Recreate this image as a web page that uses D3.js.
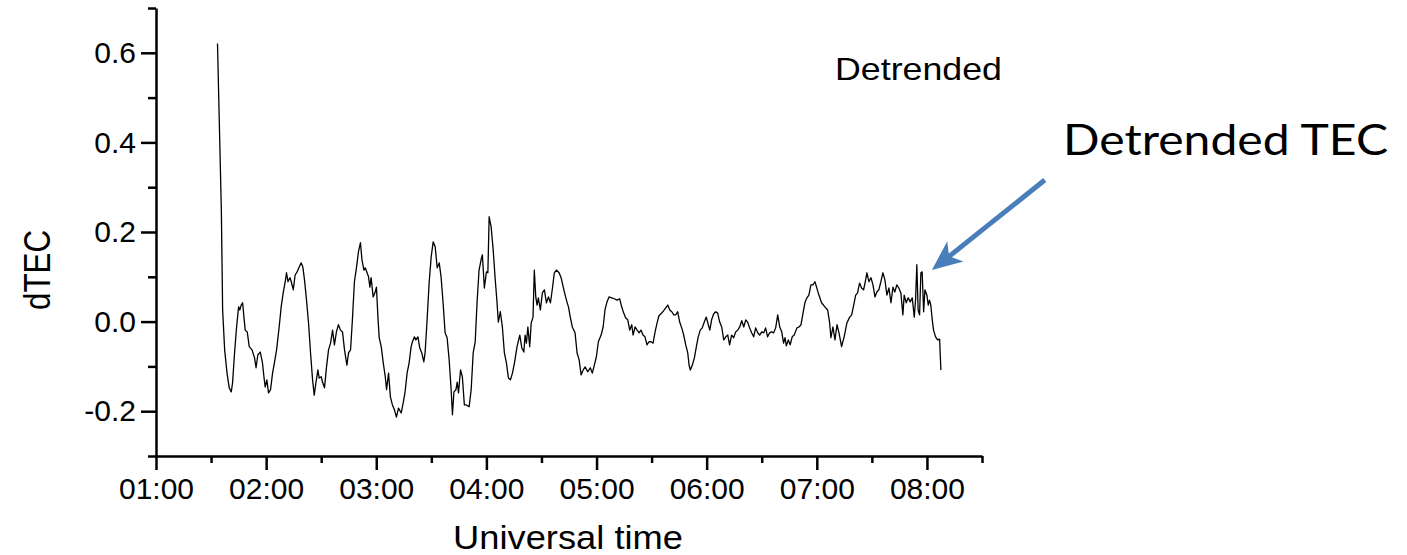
<!DOCTYPE html>
<html>
<head>
<meta charset="utf-8">
<script src="https://cdn.jsdelivr.net/npm/d3@7"></script>
<style>
  body { margin: 0; background: #fff; }
  svg text { font-family: "Liberation Sans", Arial, sans-serif; fill: #000; }
</style>
</head>
<body>
<svg id="chart" width="1407" height="555"></svg>
<script>
// time of each sample, minutes after 00:00 UT
var timeMin = [
  93.5, 95.6, 96.3, 97.4, 98.7, 99.9, 101.0, 101.7, 102.8, 103.9,
  105.0, 105.7, 106.4, 107.2, 107.9, 108.6, 109.7, 110.8, 112.3, 113.7,
  114.5, 115.5, 116.8, 118.0, 118.8, 119.5, 120.4, 121.3, 122.4, 123.5,
  124.6, 125.7, 127.1, 128.2, 129.3, 130.4, 131.1, 131.9, 133.0, 133.7,
  134.8, 135.8, 136.9, 138.0, 139.1, 140.0, 140.9, 142.0, 143.1, 144.2,
  145.3, 146.2, 147.1, 148.2, 148.9, 150.0, 150.7, 151.8, 152.9, 154.0,
  155.1, 156.2, 157.2, 158.3, 159.4, 160.5, 161.6, 162.7, 164.0, 164.9,
  166.0, 167.0, 168.1, 169.2, 170.3, 171.4, 172.2, 173.3, 174.0, 175.8,
  176.5, 177.2, 178.3, 179.4, 180.1, 180.9, 181.6, 182.7, 183.8, 184.9,
  185.6, 186.7, 187.7, 188.8, 189.9, 191.0, 192.1, 193.6, 194.7, 195.7,
  196.8, 197.9, 199.0, 199.7, 200.8, 201.6, 202.7, 203.7, 204.8, 205.9,
  206.6, 207.7, 208.8, 209.9, 211.0, 212.1, 213.2, 214.3, 215.3, 216.4,
  217.5, 218.6, 219.7, 220.8, 221.5, 222.3, 223.4, 224.1, 224.8, 225.9,
  226.9, 228.0, 229.1, 230.6, 231.7, 232.8, 233.9, 234.9, 236.0, 237.1,
  237.8, 238.9, 240.0, 240.8, 241.5, 242.6, 243.7, 244.7, 245.8, 246.5,
  247.6, 248.7, 249.8, 250.9, 252.0, 253.1, 254.2, 255.3, 256.7, 258.2,
  259.3, 260.4, 261.1, 261.8, 262.6, 263.6, 264.4, 265.4, 266.1, 266.9,
  267.6, 268.3, 269.4, 270.5, 271.6, 272.7, 273.8, 274.9, 276.0, 277.0,
  278.1, 279.6, 280.7, 282.2, 283.6, 284.7, 285.7, 286.8, 288.3, 289.4,
  290.5, 291.6, 292.7, 293.8, 295.2, 296.6, 297.7, 298.8, 299.9, 301.0,
  302.5, 303.6, 304.6, 305.7, 306.8, 308.3, 309.7, 311.2, 312.6, 313.7,
  314.8, 315.9, 317.0, 318.1, 319.2, 319.9, 321.0, 322.1, 323.2, 324.2,
  325.3, 326.4, 327.5, 328.6, 329.7, 330.8, 331.9, 333.0, 334.0, 335.5,
  336.9,
  338.8, 339.9, 341.0, 342.1, 343.1, 344.2, 345.3, 346.4, 347.5, 348.6,
  349.7, 350.4, 351.1, 352.2, 353.3, 354.4, 355.4, 356.5, 357.6, 358.7,
  359.8, 360.9, 361.7, 362.7, 363.8, 364.9, 366.0, 367.1, 368.2, 369.3,
  370.4, 371.5, 372.5, 373.6, 374.7, 375.8, 376.9, 378.0, 379.1, 380.2,
  381.3, 382.3, 383.4, 384.5, 385.6, 386.7, 387.8, 388.9, 390.0, 391.1,
  392.1, 393.2, 394.3, 395.4, 396.5, 397.6, 398.7, 399.8, 400.9, 401.9,
  402.7, 403.4, 404.5, 405.5, 406.6, 407.7, 409.2, 410.3, 411.4, 412.5,
  413.5, 414.6, 415.7, 416.8, 417.9, 419.0, 420.8, 422.6, 424.4, 425.9,
  427.0, 427.7, 428.8, 429.9, 431.0, 432.1, 433.5, 434.9, 436.4, 437.9,
  439.0, 440.1, 441.2, 442.2, 443.3, 444.4, 445.5, 446.6, 447.3, 448.4,
  449.5, 450.6, 451.7, 452.7, 453.8, 454.9, 456.0, 457.1, 458.2, 459.3,
  460.4, 461.5, 462.5, 463.6, 464.7, 465.8, 466.9, 467.6, 468.7, 469.8,
  470.9, 472.0, 473.1, 473.8, 474.5, 475.2, 476.0, 476.7, 477.4, 478.2,
  478.9, 480.0, 480.7, 481.4, 482.1, 482.9, 483.6, 484.7, 485.8, 486.9, 487.6
];
var dtec = [
  0.621, 0.249, 0.026, -0.063, -0.115, -0.148, -0.157, -0.137, -0.070, -0.012,
  0.033, 0.026, 0.037, 0.042, 0.010, -0.019, -0.023, -0.056, -0.063, -0.081,
  -0.103, -0.074, -0.068, -0.092, -0.123, -0.146, -0.130, -0.159, -0.152, -0.115,
  -0.090, -0.063, -0.012, 0.033, 0.064, 0.089, 0.109, 0.089, 0.098, 0.089,
  0.071, 0.104, 0.111, 0.122, 0.131, 0.122, 0.093, 0.048, -0.003, -0.070,
  -0.130, -0.164, -0.137, -0.108, -0.126, -0.123, -0.135, -0.148, -0.101, -0.063,
  -0.048, -0.019, -0.052, -0.023, -0.007, -0.019, -0.023, -0.063, -0.097, -0.070,
  -0.063, 0.004, 0.089, 0.120, 0.156, 0.176, 0.138, 0.115, 0.120, 0.100,
  0.077, 0.098, 0.055, 0.066, 0.077, 0.010, -0.036, -0.056, -0.092, -0.123,
  -0.152, -0.115, -0.168, -0.186, -0.197, -0.213, -0.193, -0.204, -0.181, -0.157,
  -0.115, -0.092, -0.056, -0.045, -0.034, -0.041, -0.034, -0.059, -0.070, -0.090,
  -0.070, 0.004, 0.086, 0.144, 0.178, 0.167, 0.120, 0.131, 0.100, 0.042,
  -0.025, -0.036, -0.085, -0.152, -0.208, -0.157, -0.152, -0.135, -0.159, -0.108,
  -0.123, -0.186, -0.186, -0.190, -0.152, -0.070, -0.045, 0.042, 0.115, 0.138,
  0.149, 0.075, 0.111, 0.109, 0.234, 0.211, 0.160, 0.100, 0.042, -0.001,
  0.022, -0.012, -0.070, -0.092, -0.126, -0.130, -0.115, -0.092, -0.056, -0.030,
  -0.059, -0.068, -0.030, -0.048, -0.012, -0.056, -0.003, 0.010, 0.115, 0.055,
  0.037, 0.053, 0.026, 0.064, 0.071, 0.042, 0.055, 0.042, 0.075, 0.109,
  0.115, 0.109, 0.098, 0.071, 0.048, 0.033, 0.010, -0.012, -0.025, -0.070,
  -0.085, -0.119, -0.108, -0.101, -0.112, -0.103, -0.115, -0.097, -0.079, -0.045,
  -0.030, -0.012, 0.026, 0.044, 0.055, 0.053, 0.051, 0.048, 0.051, 0.033,
  0.019, 0.008, 0.004, -0.019, -0.007, -0.030, -0.012, -0.019, -0.025, -0.019,
  -0.030, -0.034, -0.052, -0.045, -0.045, -0.048, -0.023, -0.003, 0.013, 0.019,
  0.026,
  0.037, 0.026, 0.022, 0.015, 0.015, 0.022, -0.001, -0.014, -0.030, -0.052,
  -0.070, -0.097, -0.108, -0.097, -0.081, -0.056, -0.034, -0.019, -0.014, -0.001,
  0.010, -0.007, -0.019, 0.004, 0.017, 0.022, 0.019, -0.001, -0.012, -0.041,
  -0.034, -0.030, -0.052, -0.030, -0.036, -0.023, -0.019, -0.012, 0.002, -0.012,
  0.004, -0.001, -0.014, -0.025, -0.034, -0.014, -0.025, -0.030, -0.023, -0.025,
  -0.014, -0.034, -0.025, -0.023, -0.025, -0.014, 0.015, -0.012, -0.023, -0.048,
  -0.036, -0.054, -0.041, -0.052, -0.034, -0.030, -0.014, -0.012, -0.007, 0.019,
  0.042, 0.053, 0.059, 0.082, 0.082, 0.089, 0.064, 0.042, 0.033, 0.026,
  -0.003, -0.036, -0.012, -0.041, -0.007, -0.025, -0.056, -0.034, -0.003, 0.010,
  0.015, 0.037, 0.059, 0.064, 0.086, 0.075, 0.071, 0.093, 0.109, 0.089,
  0.098, 0.082, 0.055, 0.066, 0.071, 0.089, 0.109, 0.093, 0.059, 0.075,
  0.042, 0.077, 0.066, 0.082, 0.075, 0.064, 0.015, 0.059, 0.042, 0.053,
  0.044, 0.053, 0.010, 0.048, 0.127, 0.026, 0.015, 0.109, 0.111, 0.022,
  0.071, 0.059, 0.037, 0.048, 0.037, 0.004, -0.019, -0.034, -0.041, -0.039, -0.108
];

var xMajorTicks = [60, 120, 180, 240, 300, 360, 420, 480];
var xTickLabels = ["01:00", "02:00", "03:00", "04:00", "05:00", "06:00", "07:00", "08:00"];
var xMinorTicks = [90, 150, 210, 270, 330, 390, 450, 510];
var yMajorTicks = [-0.2, 0.0, 0.2, 0.4, 0.6];
var yMinorTicks = [-0.3, -0.1, 0.1, 0.3, 0.5, 0.7];

// annotation arrow, in chart units (minutes, dTEC)
var arrowTail = [544.2, 0.316];
var arrowTip = [482.7, 0.115];

var svg = d3.select('#chart');
var xScale = d3.scaleLinear().domain([60, 510]).range([156, 982]);
var yScale = d3.scaleLinear().domain([-0.3, 0.7]).range([456, 8]);

var data = d3.zip(timeMin, dtec);

// minor ticks first so the major axes sit on top
svg.append('g').attr('transform', 'translate(0,456)')
  .call(d3.axisBottom(xScale).tickValues(xMinorTicks).tickSize(7).tickSizeOuter(0).tickFormat(''))
  .call(g => g.select('.domain').remove());
svg.append('g').attr('transform', 'translate(156,0)')
  .call(d3.axisLeft(yScale).tickValues(yMinorTicks).tickSize(8).tickSizeOuter(0).tickFormat(''))
  .call(g => g.select('.domain').remove());

var xAxis = svg.append('g').attr('class', 'axis').attr('transform', 'translate(0,456)')
  .call(d3.axisBottom(xScale).tickValues(xMajorTicks).tickSize(14).tickSizeOuter(0).tickPadding(8)
    .tickFormat(function(d, i) { return xTickLabels[i]; }));
var yAxis = svg.append('g').attr('class', 'axis').attr('transform', 'translate(156,0)')
  .call(d3.axisLeft(yScale).tickValues(yMajorTicks).tickSize(15).tickSizeOuter(0).tickPadding(5)
    .tickFormat(function(d) { return d.toFixed(1); }));

svg.selectAll('.tick line').attr('stroke', '#000').attr('stroke-width', 2.5);
svg.selectAll('.domain').attr('stroke', '#000').attr('stroke-width', 2.5);
svg.selectAll('.axis text').style('font-size', '30px').attr('fill', '#000');

svg.append('path')
  .datum(data)
  .attr('fill', 'none')
  .attr('stroke', '#000')
  .attr('stroke-width', 1.3)
  .attr('stroke-linejoin', 'round')
  .attr('d', d3.line()
    .x(function(d) { return xScale(d[0]); })
    .y(function(d) { return yScale(d[1]); }));

// axis titles
svg.append('text')
  .attr('x', 568).attr('y', 549)
  .attr('text-anchor', 'middle')
  .style('font-size', '34px')
  .attr('textLength', 230).attr('lengthAdjust', 'spacingAndGlyphs')
  .text('Universal time');
svg.append('text')
  .attr('transform', 'translate(50,270) rotate(-90)')
  .attr('text-anchor', 'middle')
  .style('font-size', '36px')
  .attr('textLength', 80).attr('lengthAdjust', 'spacingAndGlyphs')
  .text('dTEC');

svg.append('text')
  .attr('x', 835).attr('y', 80)
  .style('font-size', '32px')
  .attr('textLength', 167).attr('lengthAdjust', 'spacingAndGlyphs')
  .text('Detrended');

// blue annotation arrow
var tx = xScale(arrowTip[0]), ty = yScale(arrowTip[1]);
var sx = xScale(arrowTail[0]), sy = yScale(arrowTail[1]);
var ang = Math.atan2(ty - sy, tx - sx);
var headLen = 30;
svg.append('line')
  .attr('x1', sx).attr('y1', sy)
  .attr('x2', tx - Math.cos(ang) * (headLen - 8))
  .attr('y2', ty - Math.sin(ang) * (headLen - 8))
  .attr('stroke', '#4a7ebb')
  .attr('stroke-width', 5);
svg.append('path')
  .attr('d', 'M0,0 L' + (-headLen) + ',-13 L' + (-headLen + 8) + ',0 L' + (-headLen) + ',13 Z')
  .attr('transform', 'translate(' + tx + ',' + ty + ') rotate(' + (ang * 180 / Math.PI) + ')')
  .attr('fill', '#4a7ebb');

svg.append('text')
  .attr('x', 1063).attr('y', 155)
  .style('font-family', 'Lato, "Open Sans", sans-serif')
  .style('font-size', '43px')
  .attr('textLength', 325).attr('lengthAdjust', 'spacingAndGlyphs')
  .text('Detrended TEC');
</script>
</body>
</html>
